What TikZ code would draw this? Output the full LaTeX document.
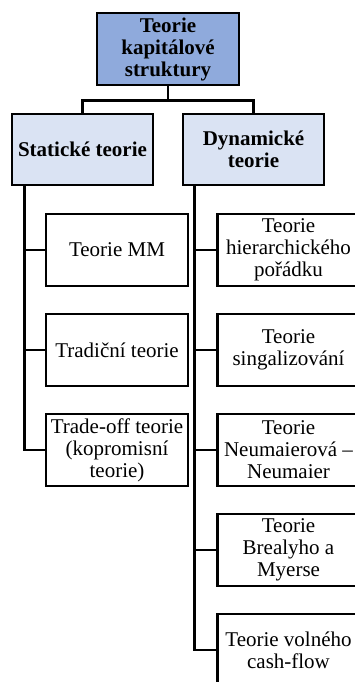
\documentclass[tikz,border=0pt]{standalone}
\usepackage{fontspec}
\setmainfont{Liberation Serif}
\definecolor{topblue}{HTML}{8FAADC}
\definecolor{midblue}{HTML}{DAE3F3}
\begin{document}
\begin{tikzpicture}[x=1pt,y=1pt,
  box/.style={draw=black, line width=2.7pt, rectangle, inner sep=0pt, align=center,
    font=\fontsize{21}{22}\selectfont, minimum height=72pt},
  topbox/.style={box, fill=topblue, minimum width=142pt, font=\fontsize{21}{22}\selectfont\bfseries},
  midbox/.style={box, fill=midblue, minimum width=141pt, minimum height=71pt, font=\fontsize{21}{22}\selectfont\bfseries},
  leaf/.style={box, fill=white, minimum width=142pt},
  conn/.style={line width=2.7pt}]
\clip (0,0) rectangle (355,-682);
\fill[white] (0,0) rectangle (355,-682);
\node[topbox] (top) at (168,-49) {Teorie\\kapitálové\\struktury};
\node[midbox] (stat) at (82.5,-149.5) {Statické teorie};
\node[midbox] (dyn) at (253.5,-149.5) {Dynamické\\teorie};
\node[leaf] (l1) at (117,-250) {Teorie MM};
\node[leaf] (l2) at (117,-350) {Tradiční teorie};
\node[leaf] (l3) at (117,-450) {Trade-off teorie\\(kopromisní\\teorie)};
\node[leaf] (r1) at (288.5,-250) {Teorie\\hierarchického\\pořádku};
\node[leaf] (r2) at (288.5,-350) {Teorie\\singalizování};
\node[leaf] (r3) at (288.5,-450) {Teorie\\Neumaierová –\\Neumaier};
\node[leaf] (r4) at (288.5,-550) {Teorie\\Brealyho a\\Myerse};
\node[leaf] (r5) at (288.5,-650) {Teorie volného\\cash-flow};
\coordinate (hub) at ([yshift=-14pt]top.south);
\draw[conn] (top.south) -- (hub);
\draw[conn] (stat.north) |- (hub) -| (dyn.north);
\coordinate (sv) at ([xshift=14pt]stat.south west);
\coordinate (dv) at ([xshift=13pt]dyn.south west);
\draw[conn] (sv) |- (l3.west);
\draw[conn] (sv |- l1.west) -- (l1.west);
\draw[conn] (sv |- l2.west) -- (l2.west);
\draw[conn] (dv) |- (r5.west);
\draw[conn] (dv |- r1.west) -- (r1.west);
\draw[conn] (dv |- r2.west) -- (r2.west);
\draw[conn] (dv |- r3.west) -- (r3.west);
\draw[conn] (dv |- r4.west) -- (r4.west);
\end{tikzpicture}
\end{document}
